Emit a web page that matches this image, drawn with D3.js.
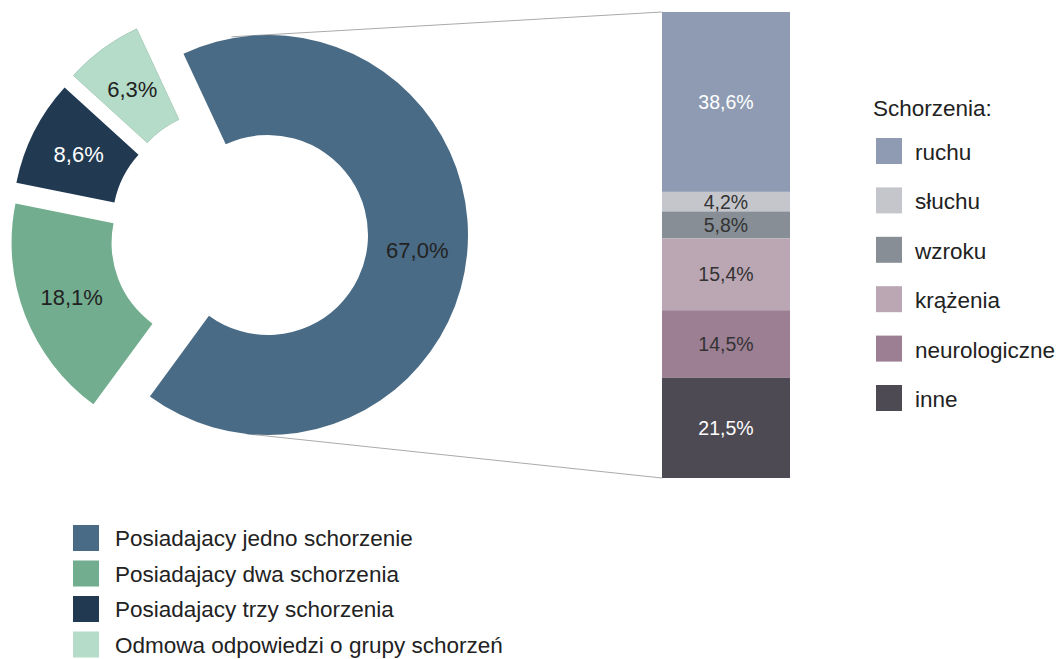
<!DOCTYPE html>
<html>
<head>
<meta charset="utf-8">
<script src="https://cdn.jsdelivr.net/npm/d3@7"></script>
<style>
  body { margin: 0; background: #fff; }
  svg { display: block; }
  svg text { font-family: "Liberation Sans", Arial, sans-serif; }
</style>
</head>
<body>
<div id="chart"></div>
<script>
// donut data
var groups = ["Posiadajacy jedno schorzenie", "Posiadajacy dwa schorzenia", "Posiadajacy trzy schorzenia", "Odmowa odpowiedzi o grupy schorzeń"];
var groupValues = [67.0, 18.1, 8.6, 6.3];
var groupColors = ["#4a6b85", "#72ad8f", "#213a52", "#b5dcc8"];

// bar data (breakdown of the 67%)
var kinds = ["ruchu", "słuchu", "wzroku", "krążenia", "neurologiczne", "inne"];
var kindValues = [38.6, 4.2, 5.8, 15.4, 14.5, 21.5];
var kindColors = ["#8e9bb3", "#c5c6cc", "#878e96", "#bba7b4", "#9c7f93", "#4d4a53"];
var kindText = ["#fff", "#333", "#333", "#333", "#333", "#fff"];

var fmt = function(v) { return v.toFixed(1).replace(".", ",") + "%"; };
var rad = Math.PI / 180;

var svg = d3.select("#chart").append("svg").attr("width", 1057).attr("height", 659);

// ---- donut ----
var cx = 268, cy = 235, rOut = 200, rIn = 100;
// how far each slice is pulled out (distance, direction in degrees clockwise from 12 o'clock)
var explode = [{d: 0, a: 0}, {d: 57, a: 262}, {d: 57, a: 283}, {d: 53, a: 298}];

var pie = d3.pie().sort(null).startAngle(-25 * rad).endAngle(335 * rad);
var arc = d3.arc().innerRadius(rIn).outerRadius(rOut);
var slices = pie(groupValues);

// connector lines from the bar corners, tangent to the big slice
var barX = 662, barW = 128, barTop = 12, barBottom = 478;
function tangent(px, py, upper) {
    var dx = px - cx, dy = py - cy, dist = Math.sqrt(dx * dx + dy * dy);
    var base = Math.atan2(dy, dx), off = Math.acos(rOut / dist);
    var a = upper ? base - off : base + off;
    return [cx + rOut * Math.cos(a), cy + rOut * Math.sin(a)];
}
var t1 = tangent(barX, barTop, true), t2 = tangent(barX, barBottom, false);
svg.append("line").attr("x1", t1[0] - 25).attr("y1", t1[1] + 1.5).attr("x2", barX).attr("y2", barTop)
    .attr("stroke", "#aaa").attr("stroke-width", 1);
svg.append("line").attr("x1", t2[0]).attr("y1", t2[1]).attr("x2", barX).attr("y2", barBottom)
    .attr("stroke", "#aaa").attr("stroke-width", 1);

var g = svg.append("g").attr("transform", "translate(" + cx + "," + cy + ")");
var sl = g.selectAll("g.slice").data(slices).enter().append("g")
    .attr("class", "slice")
    .attr("transform", function(d, i) {
        var e = explode[i];
        return "translate(" + (e.d * Math.sin(e.a * rad)) + "," + (-e.d * Math.cos(e.a * rad)) + ")";
    });
sl.append("path").attr("d", arc)
    .attr("fill", function(d, i) { return groupColors[i]; })
    .attr("stroke", function(d, i) { return i == 3 ? "#a5c9b6" : "none"; })
    .attr("stroke-width", 0.8);
sl.append("text")
    .attr("transform", function(d) { return "translate(" + arc.centroid(d) + ")"; })
    .attr("text-anchor", "middle").attr("dy", "0.36em")
    .attr("font-size", 22)
    .attr("fill", function(d, i) { return i == 2 ? "#fff" : "#222"; })
    .text(function(d) { return fmt(d.data); });

// ---- stacked bar ----
var y = d3.scaleLinear().domain([0, 100]).range([barTop, barBottom]);
var stack = [], acc = 0;
kindValues.forEach(function(v, i) { stack.push({i: i, y0: acc, y1: acc + v, v: v}); acc += v; });

var bars = svg.append("g");
bars.selectAll("rect").data(stack).enter().append("rect")
    .attr("x", barX).attr("width", barW)
    .attr("y", function(d) { return y(d.y0); })
    .attr("height", function(d) { return y(d.y1) - y(d.y0); })
    .attr("fill", function(d) { return kindColors[d.i]; });
bars.selectAll("text").data(stack).enter().append("text")
    .attr("x", barX + barW / 2)
    .attr("y", function(d) { return (y(d.y0) + y(d.y1)) / 2; })
    .attr("dy", "0.36em").attr("text-anchor", "middle")
    .attr("font-size", 19.5)
    .attr("fill", function(d) { return kindText[d.i]; })
    .text(function(d) { return fmt(d.v); });

// ---- right legend ----
var lg = svg.append("g").attr("transform", "translate(873,0)");
lg.append("text").attr("x", 0).attr("y", 116).attr("font-size", 22.5).attr("fill", "#222").text("Schorzenia:");
var li = lg.selectAll("g.item").data(kinds).enter().append("g")
    .attr("transform", function(d, i) { return "translate(3," + (138 + i * 49.4) + ")"; });
li.append("rect").attr("width", 26).attr("height", 26).attr("fill", function(d, i) { return kindColors[i]; });
li.append("text").attr("x", 39).attr("y", 14).attr("dy", "0.36em").attr("font-size", 22.5).attr("fill", "#222")
    .text(function(d) { return d; });

// ---- bottom legend ----
var bl = svg.append("g").attr("transform", "translate(73,525)");
var bi = bl.selectAll("g").data(groups).enter().append("g")
    .attr("transform", function(d, i) { return "translate(0," + (i * 35.5) + ")"; });
bi.append("rect").attr("width", 26).attr("height", 26).attr("fill", function(d, i) { return groupColors[i]; });
bi.append("text").attr("x", 42).attr("y", 13).attr("dy", "0.36em").attr("font-size", 22.5).attr("fill", "#222")
    .text(function(d) { return d; });
</script>
</body>
</html>
